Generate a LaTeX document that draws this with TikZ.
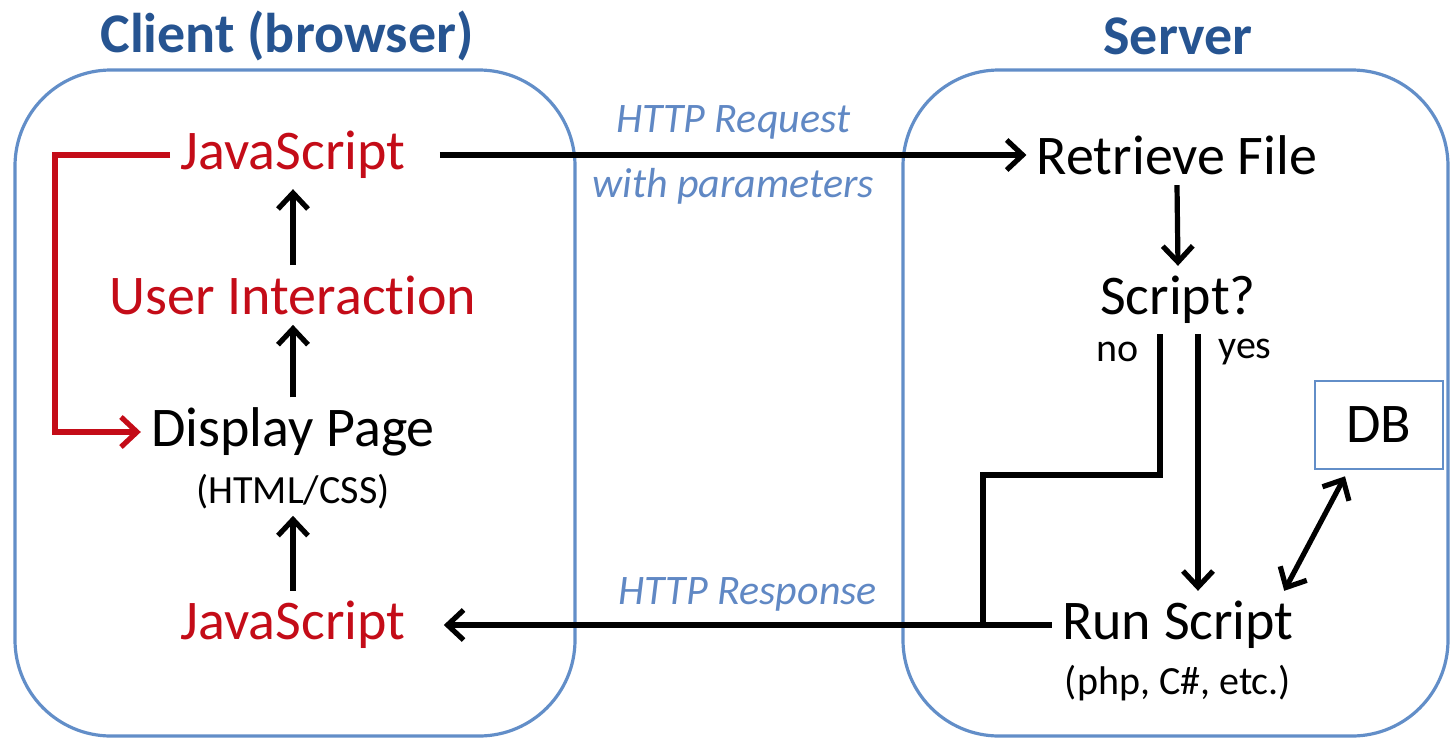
\documentclass[tikz,border=0pt]{standalone}
\usepackage{fontspec}
\setmainfont{Carlito}[Ligatures=NoCommon]
\usetikzlibrary{arrows.meta,calc}
\definecolor{titleblue}{RGB}{38,84,145}
\definecolor{boxblue}{RGB}{98,142,200}
\definecolor{labelblue}{RGB}{96,136,196}
\definecolor{jsred}{RGB}{196,12,24}

\begin{document}
\begin{tikzpicture}[x=0.5pt,y=-0.5pt,
  title/.style={font=\fontsize{28}{30}\selectfont\bfseries,text=titleblue},
  item/.style={font=\fontsize{28}{30}\selectfont,inner sep=5pt},
  small/.style={font=\fontsize{20}{22}\selectfont,inner sep=3pt},
  lbl/.style={font=\fontsize{21}{23}\selectfont\itshape,text=labelblue},
  panel/.style={draw=boxblue,line width=1.6pt,rounded corners=48pt},
  conn/.style={line width=2.6pt},
  arr/.style={conn,-{Straight Barb[length=8pt,width=15pt]}},
  dblarr/.style={conn,{Straight Barb[length=8pt,width=15pt]}-{Straight Barb[length=8pt,width=15pt]}},
  redarr/.style={arr,draw=jsred}]
\useasboundingbox (0,0) rectangle (1453,740);

% client
\draw[panel] (15,70) rectangle (575,736);
\node[title] (client) at (287,36) {Client (browser)};
\node[item,text=jsred] (jstop) at (293,155) {JavaScript};
\node[item,text=jsred] (ui) at (293,295) {User Interaction};
\node[item] (display) at (293,432) {Display Page};
\node[small] (htmlcss) at (293,492) {(HTML/CSS)};
\node[item,text=jsred] (jsbot) at (293,625) {JavaScript};
\coordinate (redbend) at (55,152);

% server
\draw[panel] (903,70) rectangle (1448,736);
\node[title] (server) at (1178,36) {Server};
\node[item] (retrieve) at (1177,155) {Retrieve File};
\node[item] (script) at (1178,300) {Script?};
\node[small] (no) at (1118,352) {no};
\node[small] (yes) at (1245,352) {yes};
\node[item,draw=boxblue,line width=1.3pt,minimum width=64pt,minimum height=44pt] (db) at (1379,425) {DB};
\node[item] (run) at (1178,625) {Run Script};
\node[small] (lang) at (1178,683) {(php, C\#, etc.)};
\coordinate (nobend) at (983,475);

% arrows
\draw[arr] ([xshift=12pt]jstop.east) -- (retrieve.west)
  node[lbl,midway,above=3pt] {HTTP Request}
  node[lbl,midway,below=2pt] {with parameters};
\draw[redarr] (jstop.west) -- (jstop.west -| redbend) |- (display.west);
\draw[arr] (ui.north) -- (jstop.south);
\draw[arr] (display.north) -- (ui.south);
\draw[arr] (jsbot.north) -- (htmlcss.south);
\draw[arr] (retrieve.south) -- (script.north);
\draw[conn] ([xshift=-9pt]script.south) |- (nobend) -- (nobend |- run.west);
\draw[arr] ([xshift=10pt]script.south) -- ([xshift=10pt]run.north);
\draw[dblarr] ([xshift=-17pt,yshift=-3pt]db.south) -- ([xshift=-10pt]run.north east);
\draw[arr] (run.west) -- ([xshift=14pt]jsbot.east)
  node[lbl,midway,above=2pt] {HTTP Response};
\end{tikzpicture}
\end{document}
